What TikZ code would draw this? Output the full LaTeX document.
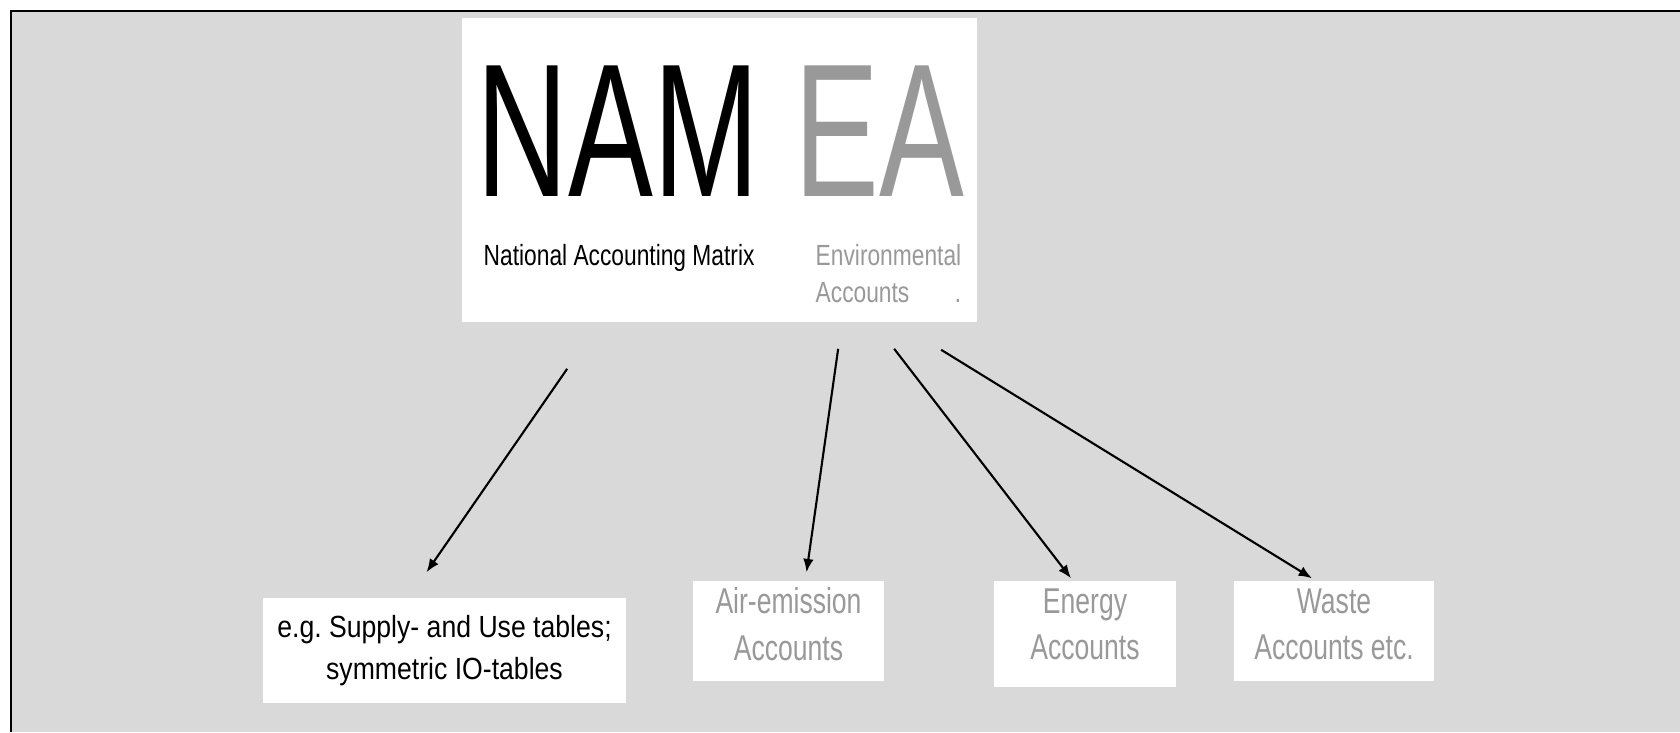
\documentclass[tikz,border=0pt]{standalone}
\usepackage{fontspec}
\setmainfont{Liberation Sans}
\newfontfamily\bigsans[FakeStretch=0.67]{Liberation Sans}
\newfontfamily\topsans[FakeStretch=0.78]{Liberation Sans}
\newfontfamily\egsans[FakeStretch=0.87]{Liberation Sans}
\newfontfamily\boxsans[FakeStretch=0.74]{Liberation Sans}
\usetikzlibrary{arrows.meta}
\definecolor{panelgray}{HTML}{D9D9D9}
\definecolor{textgray}{HTML}{999999}

\begin{document}
\begin{tikzpicture}[x=0.01cm, y=-0.01cm,
  whitebox/.style={rectangle, fill=white, inner sep=0pt, align=center},
  graybox/.style={whitebox, text=textgray, font=\boxsans\fontsize{10.2}{13.1}\selectfont, minimum height=1cm, text depth=4pt},
  link/.style={-{Latex[length=3.8pt,width=3pt]}, line width=0.6pt}]

\useasboundingbox (0,0) rectangle (1680,732);
\fill[panelgray] (11,11) rectangle (1680,732);
\draw[line width=0.8pt] (11,732) -- (11,11) -- (1680,11);

% logo box
\node[whitebox, minimum width=5.15cm, minimum height=3.04cm] (namea) at (719.5,170) {};
\node[anchor=base west, inner sep=0pt, font=\bigsans\fontsize{54}{54}\selectfont] (logo) at (476,196) {NAM \textcolor{textgray}{EA}};
\node[anchor=base west, inner sep=0pt, font=\topsans\fontsize{8.3}{10.5}\selectfont] (nam) at (483,265) {National Accounting Matrix};
\node[anchor=base west, inner sep=0pt, align=left, text=textgray, font=\topsans\fontsize{8.3}{10.5}\selectfont] (ea) at (815,302) {Environmental\\Accounts\hfill.};

% account boxes
\node[whitebox, minimum width=3.63cm, minimum height=1.05cm, font=\egsans\fontsize{8.7}{12.1}\selectfont] (eg) at (444.5,650.5) {e.g.\ Supply- and Use tables;\\symmetric IO-tables};
\node[graybox, minimum width=1.91cm] (air) at (788.5,631) {Air-emission\\Accounts};
\node[graybox, minimum width=1.82cm, minimum height=1.06cm, text depth=5.7pt] (energy) at (1085,634) {Energy\\Accounts};
\node[graybox, minimum width=2cm] (waste) at (1334,631) {Waste\\Accounts etc.};

% arrows
\coordinate (s1) at ([shift={(106,46)}]namea.south west);
\coordinate (s2) at ([shift={(377,26)}]namea.south west);
\coordinate (s3) at ([shift={(433,26)}]namea.south west);
\coordinate (s4) at ([shift={(480,27)}]namea.south west);
\draw[link] (s1) -- ([shift={(-18,-25)}]eg.north);
\draw[link] (s2) -- ([shift={(18,-8)}]air.north);
\draw[link] (s3) -- ([shift={(-14,-2)}]energy.north);
\draw[link] (s4) -- ([shift={(-22,-2)}]waste.north);
\end{tikzpicture}
\end{document}
